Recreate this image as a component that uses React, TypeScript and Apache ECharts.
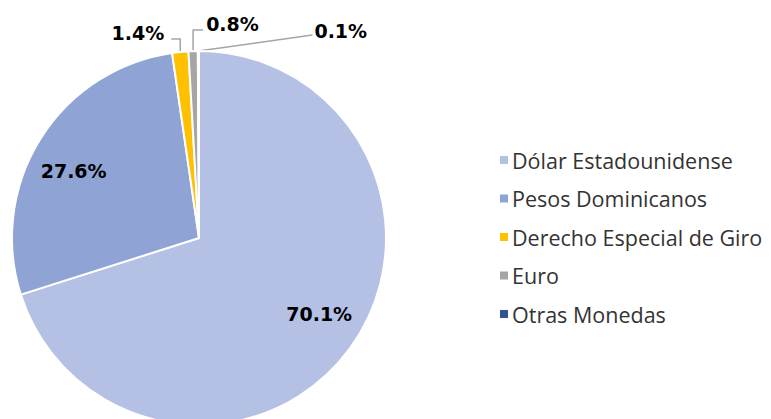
import React, { useEffect, useRef } from "react";
import * as echarts from "echarts";

const categories = ["Dólar Estadounidense", "Pesos Dominicanos", "Derecho Especial de Giro", "Euro", "Otras Monedas"];
const values = [70.1, 27.6, 1.4, 0.8, 0.1];
const colors = ["#B4C1E4", "#8FA3D5", "#FFC000", "#A5A5A5", "#2F5597"];

const CX = 199;
const CY = 238;
const R = 187;

// label placement (layout only): inside radius/angle shift for big slices, leader geometry for small slices
const insideRadius = 142;
const insideAngleShift = (-4 * Math.PI) / 180;
const outsideLeader: Record<number, { up: number; side: number; gap: number; dy: number; slant?: boolean }> = {
  2: { up: 13, side: -9, gap: 7, dy: -6 },
  3: { up: 21, side: 10, gap: 3, dy: -6 },
  4: { up: 16, side: 114, gap: 2, dy: -4, slant: true },
};

function midAngle(i: number) {
  const total = values.reduce((a, b) => a + b, 0);
  let cum = 0;
  for (let k = 0; k < i; k++) cum += values[k];
  return ((cum + values[i] / 2) / total) * Math.PI * 2;
}

export default function App() {
  const ref = useRef<HTMLDivElement>(null);
  useEffect(() => {
    if (!ref.current) return;
    const chart = echarts.init(ref.current, undefined, { renderer: "svg" });
    chart.setOption({
      animation: false,
      legend: {
        orient: "vertical",
        left: 493,
        top: 144,
        itemWidth: 10,
        itemHeight: 10,
        itemGap: 16.5,
        icon: "rect",
        textStyle: { fontFamily: "Open Sans", fontSize: 21.5, color: "#333", lineHeight: 22, padding: [0, 0, 0, -2] },
        data: categories,
      },
      series: [
        {
          type: "pie",
          center: [CX, CY],
          radius: [0, R],
          startAngle: 90,
          clockwise: true,
          avoidLabelOverlap: false,
          itemStyle: { borderColor: "#fff", borderWidth: 2 },
          labelLine: { show: true, lineStyle: { color: "#A5A5A5", width: 1.5 }, length: 14, length2: 8 },
          label: {
            fontFamily: "DejaVu Sans",
            fontWeight: "bold",
            fontSize: 19,
            color: "#000",
            formatter: (p: any) => p.value.toFixed(1) + "%",
          },
          labelLayout: (p: any) => {
            const i = p.dataIndex;
            const a = midAngle(i);
            if (i <= 1) {
              const b = a + insideAngleShift;
              return {
                x: CX + insideRadius * Math.sin(b),
                y: CY - insideRadius * Math.cos(b),
                align: "center",
                verticalAlign: "middle",
              };
            }
            const L = outsideLeader[i];
            const p0x = CX + R * Math.sin(a);
            const p0y = CY - R * Math.cos(a);
            const ex = p0x + L.side;
            const ey = p0y - L.up;
            const pts = L.slant ? [[p0x, p0y], [ex, ey], [ex, ey]] : [[p0x, p0y], [p0x, ey], [ex, ey]];
            return {
              x: ex + (L.side < 0 ? -L.gap : L.gap),
              y: ey + L.dy,
              align: L.side < 0 ? "right" : "left",
              verticalAlign: "middle",
              labelLinePoints: pts,
            };
          },
          data: categories.map((name, i) => ({
            name,
            value: values[i],
            itemStyle: { color: colors[i] },
            label: { position: i <= 1 ? "inside" : "outside" },
            labelLine: { show: i > 1 },
          })),
        },
      ],
    });
    return () => chart.dispose();
  }, []);
  return <div ref={ref} style={{ position: "absolute", left: 0, top: 0, width: 771, height: 419 }} />;
}
